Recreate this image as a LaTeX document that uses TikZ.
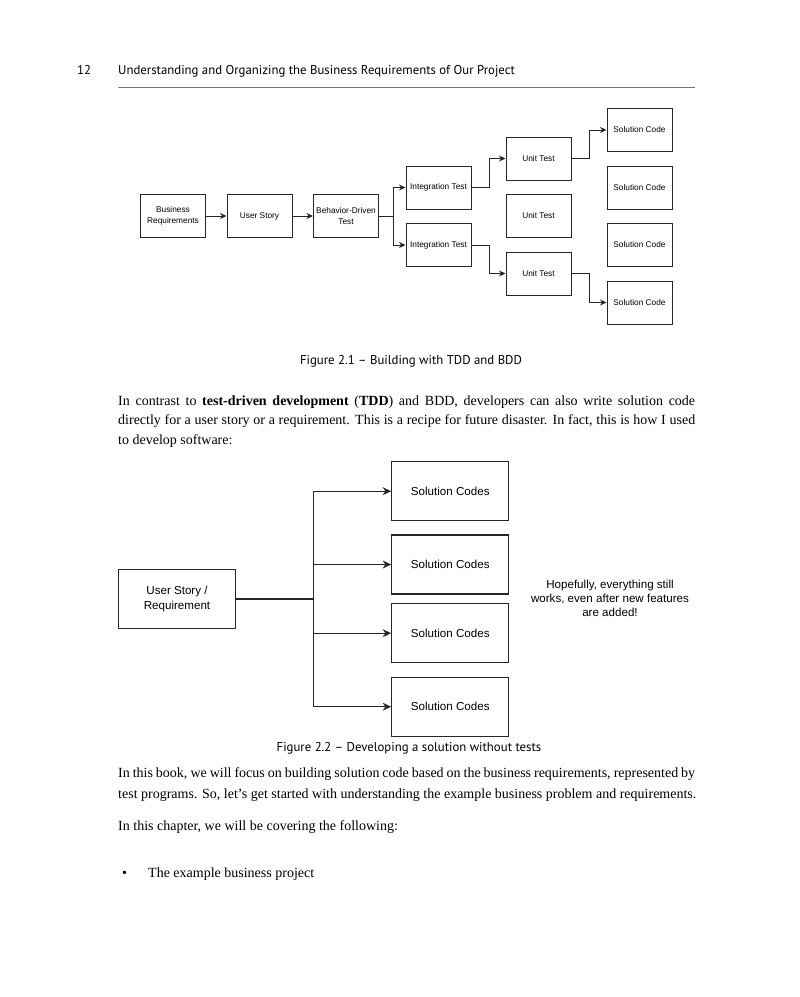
\documentclass[tikz,border=0pt]{standalone}
\usepackage{fontspec}
\setmainfont{Liberation Serif}
\setsansfont{Liberation Sans}
\newfontfamily\capfont[Ligatures=TeX]{PT Sans}
\usetikzlibrary{arrows.meta,positioning}
\tikzset{
    small box/.style={rectangle,draw=black!85,line width=1pt,minimum width=65pt,minimum height=43pt,inner sep=1pt,align=center,font=\sffamily\fontsize{8.3}{10.5}\selectfont},
    big box/.style={rectangle,draw=black!85,line width=1.3pt,minimum width=117pt,minimum height=59pt,align=center,font=\sffamily\fontsize{11.6}{14.3}\selectfont},
    link/.style={-{Stealth[length=6.5pt,width=6pt]},line width=1pt,black!85},
    big link/.style={-{Stealth[length=8.5pt,width=8pt]},line width=1.3pt,black!85},
    body/.style={anchor=base west,inner sep=0pt,font=\fontsize{14}{19.5}\selectfont},
    figcap/.style={inner sep=0pt,font=\capfont\fontsize{12.8}{15}\selectfont}
}

\begin{document}
\begin{tikzpicture}[x=1pt,y=-1pt]

    \fill[white] (0,0) rectangle (800,997);
    \useasboundingbox (0,0) rectangle (800,997);

    % running head
    \node[figcap,anchor=base west] (page no) at (77,74.5) {12};
    \node[figcap,anchor=base west] (head) at (118,74.5) {Understanding and Organizing the Business Requirements of Our Project};
    \coordinate (rule a) at (118,87.5);
    \coordinate (rule b) at (695,87.5);
    \draw[black!55,line width=0.9pt] (rule a) -- (rule b);

    % figure 2.1
    \node[small box] (business) at (173,216) {Business\\Requirements};
    \node[small box] (story) [right=20.5pt of business] {User Story};
    \node[small box] (bdd) [right=20.5pt of story] {Behavior-Driven\\Test};

    \node[small box] (integ 1) at (438.5,187.5) {Integration Test};
    \node[small box] (integ 2) [below=13.5pt of integ 1] {Integration Test};

    \node[small box] (unit 2) at (538.5,216) {Unit Test};
    \node[small box] (unit 1) [above=13.5pt of unit 2] {Unit Test};
    \node[small box] (unit 3) [below=13.5pt of unit 2] {Unit Test};

    \node[small box] (sol 1) at (639.5,130) {Solution Code};
    \node[small box] (sol 2) [below=13.5pt of sol 1] {Solution Code};
    \node[small box] (sol 3) [below=13.5pt of sol 2] {Solution Code};
    \node[small box] (sol 4) [below=13.5pt of sol 3] {Solution Code};

    \draw[link] (business) -- (story);
    \draw[link] (story) -- (bdd);
    \draw[link] (bdd.east) -- ++(14.5,0) |- (integ 1.west);
    \draw[link] (bdd.east) -- ++(14.5,0) |- (integ 2.west);
    \draw[link] (integ 1.east) -- ++(17.5,0) |- (unit 1.west);
    \draw[link] (integ 2.east) -- ++(17.5,0) |- (unit 3.west);
    \draw[link] (unit 1.east) -- ++(18,0) |- (sol 1.west);
    \draw[link] (unit 3.east) -- ++(18,0) |- (sol 4.west);

    \node[figcap] (cap 1) at (411,361) {Figure 2.1 – Building with TDD and BDD};

    % text between the figures
    \node[body] (p1 l1) at (118,405) {\makebox[577pt][s]{In contrast to \textbf{test-driven development} (\textbf{TDD}) and BDD, developers can also write solution code}};
    \node[body] (p1 l2) at (118,424.5) {\makebox[577pt][s]{directly for a user story or a requirement. This is a recipe for future disaster. In fact, this is how I used}};
    \node[body] (p1 l3) at (118,444) {to develop software:};

    % figure 2.2
    \node[big box] (req) at (177,599) {User Story /\\Requirement};
    \node[big box] (code 1) at (450.3,491.2) {Solution Codes};
    \node[big box] (code 2) [below=13pt of code 1] {Solution Codes};
    \node[big box] (code 3) [below=8.4pt of code 2] {Solution Codes};
    \node[big box] (code 4) [below=13.2pt of code 3] {Solution Codes};
    \coordinate (fork) at (313.5,599);

    \draw[line width=1.3pt,black!85] (req) -- (fork);
    \draw[big link] (fork) |- (code 1);
    \draw[big link] (fork) |- (code 2);
    \draw[big link] (fork) |- (code 3);
    \draw[big link] (fork) |- (code 4);

    \node[align=center,font=\sffamily\fontsize{11.6}{14.3}\selectfont] (hope) at (610,598.5) {Hopefully, everything still\\works, even after new features\\are added!};

    \node[figcap] (cap 2) at (409,748) {Figure 2.2 – Developing a solution without tests};

    % text after the figures
    \node[body] (p2 l1) at (118,777) {\makebox[577pt][s]{In this book, we will focus on building solution code based on the business requirements, represented by}};
    \node[body] (p2 l2) at (118,798) {test programs. So, let’s get started with understanding the example business problem and requirements.};
    \node[body] (p3 l1) at (118,830) {In this chapter, we will be covering the following:};
    \node[body] (bullet) at (122,877) {\textbullet};
    \node[body] (item 1) at (148,877) {The example business project};

\end{tikzpicture}
\end{document}
